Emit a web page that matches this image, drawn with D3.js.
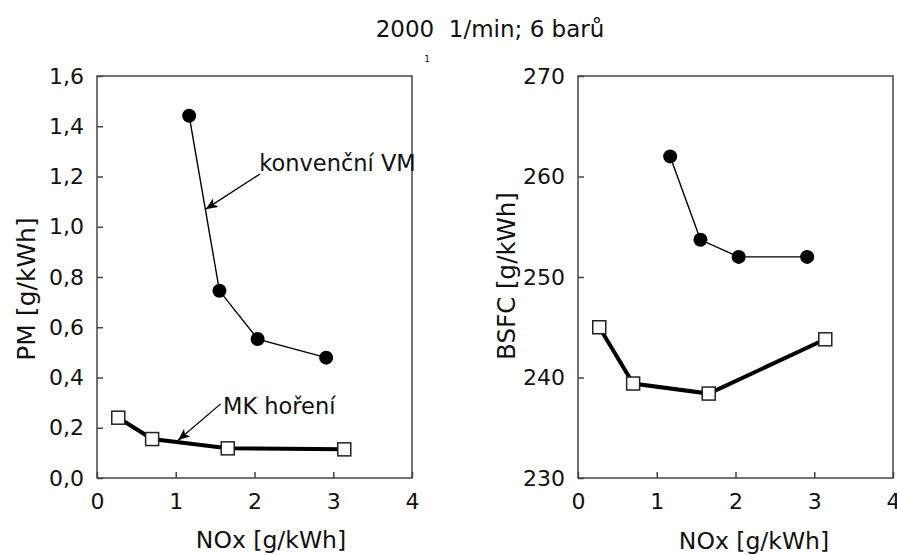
<!DOCTYPE html>
<html>
<head>
<meta charset="utf-8">
<script src="https://cdn.jsdelivr.net/npm/d3@7"></script>
<style>
  body { margin: 0; background: #fff; }
  text { font-family: "DejaVu Sans", Verdana, sans-serif; fill: #111; }
</style>
</head>
<body>
<svg width="897" height="555"></svg>
<script>
// data
var noxKonv = [1.17, 1.555, 2.04, 2.91];
var pmKonv = [1.442, 0.745, 0.553, 0.479];
var bsfcKonv = [262.0, 253.7, 252.0, 252.0];

var noxMK = [0.27, 0.70, 1.66, 3.14];
var pmMK = [0.240, 0.155, 0.118, 0.114];
var bsfcMK = [245.0, 239.4, 238.4, 243.8];

var xTicks = [0, 1, 2, 3, 4];
var pmTicks = [0, 0.2, 0.4, 0.6, 0.8, 1.0, 1.2, 1.4, 1.6];
var bsfcTicks = [230, 240, 250, 260, 270];

var svg = d3.select("svg");
var fmt = d3.format(".1f");

svg.append("text")
    .attr("x", 490).attr("y", 37)
    .attr("text-anchor", "middle")
    .style("font-size", "23px")
    .style("white-space", "pre")
    .attr("xml:space", "preserve")
    .text("2000  1/min; 6 barů");

svg.append("text")
    .attr("x", 427).attr("y", 62)
    .attr("text-anchor", "middle")
    .style("font-size", "9px")
    .text("1");

function panel(left, yDomain, yTicks, yFmt, fontSize) {
    var W = 315, H = 402, top = 76;
    var g = svg.append("g").attr("transform", "translate(" + left + "," + top + ")");
    var x = d3.scaleLinear().domain([0, 4]).range([0, W]);
    var y = d3.scaleLinear().domain(yDomain).range([H, 0]);

    g.append("rect")
        .attr("width", W).attr("height", H)
        .attr("fill", "none").attr("stroke", "#444").attr("stroke-width", 1.5);

    // ticks point inwards, labels outside
    var ax = g.append("g").attr("transform", "translate(0," + H + ")")
        .call(d3.axisBottom(x).tickValues(xTicks).tickFormat(d3.format("d")).tickSize(-6).tickPadding(10));
    var ay = g.append("g")
        .call(d3.axisLeft(y).tickValues(yTicks).tickFormat(yFmt).tickSize(-6).tickPadding(13));
    [ax, ay].forEach(function(a) {
        a.select(".domain").remove();
        a.selectAll("line").attr("stroke", "#444").attr("stroke-width", 1.5);
        a.selectAll("text").style("font-size", fontSize + "px")
            .style("font-family", '"DejaVu Sans", Verdana, sans-serif').attr("fill", "#111");
    });
    ax.selectAll("text").attr("dy", "0.95em");

    return { g: g, x: x, y: y };
}

function series(p, xs, ys, width, marker) {
    var pts = xs.map(function(v, i) { return [v, ys[i]]; });
    p.g.append("path")
        .datum(pts)
        .attr("fill", "none").attr("stroke", "#000").attr("stroke-width", width)
        .attr("d", d3.line().x(function(d) { return p.x(d[0]); }).y(function(d) { return p.y(d[1]); }));
    if (marker == "circle") {
        p.g.selectAll(null).data(pts).enter().append("circle")
            .attr("cx", function(d) { return p.x(d[0]); })
            .attr("cy", function(d) { return p.y(d[1]); })
            .attr("r", 7).attr("fill", "#000");
    } else {
        p.g.selectAll(null).data(pts).enter().append("rect")
            .attr("x", function(d) { return p.x(d[0]) - 6.5; })
            .attr("y", function(d) { return p.y(d[1]) - 6.5; })
            .attr("width", 13).attr("height", 13)
            .attr("fill", "#fff").attr("stroke", "#222").attr("stroke-width", 1.5);
    }
}

svg.append("defs").append("marker")
    .attr("id", "head").attr("viewBox", "0 0 12 10")
    .attr("refX", 12).attr("refY", 5)
    .attr("markerWidth", 12).attr("markerHeight", 10)
    .attr("markerUnits", "userSpaceOnUse")
    .attr("orient", "auto")
    .append("path").attr("d", "M0,0 L12,5 L0,10 L3,5 Z").attr("fill", "#000");

function note(p, txt, tx, ty, ax, ay, fx, fy) {
    p.g.append("line")
        .attr("x1", p.x(fx)).attr("y1", p.y(fy))
        .attr("x2", p.x(ax)).attr("y2", p.y(ay))
        .attr("stroke", "#000").attr("stroke-width", 1.3)
        .attr("marker-end", "url(#head)");
    p.g.append("text")
        .attr("x", p.x(tx)).attr("y", p.y(ty))
        .style("font-size", "22.5px")
        .text(txt);
}

// left: PM
var pL = panel(97, [0, 1.6], pmTicks, function(d) { return fmt(d).replace(".", ","); }, 22);
series(pL, noxKonv, pmKonv, 1.4, "circle");
series(pL, noxMK, pmMK, 4, "square");
note(pL, "konvenční VM", 2.06, 1.22, 1.38, 1.07, 2.07, 1.21);
note(pL, "MK hoření", 1.6, 0.255, 1.03, 0.15, 1.57, 0.295);

// right: BSFC
var pR = panel(578, [230, 270], bsfcTicks, d3.format("d"), 22);
series(pR, noxKonv, bsfcKonv, 1.4, "circle");
series(pR, noxMK, bsfcMK, 4, "square");

// axis titles
svg.append("text")
    .attr("transform", "translate(35,289) rotate(-90)")
    .attr("text-anchor", "middle").style("font-size", "25px")
    .text("PM [g/kWh]");
svg.append("text")
    .attr("transform", "translate(515,276) rotate(-90)")
    .attr("text-anchor", "middle").style("font-size", "24.5px")
    .text("BSFC [g/kWh]");
svg.append("text")
    .attr("x", 271).attr("y", 548)
    .attr("text-anchor", "middle").style("font-size", "23.5px")
    .text("NOx [g/kWh]");
svg.append("text")
    .attr("x", 754).attr("y", 549)
    .attr("text-anchor", "middle").style("font-size", "23.5px")
    .text("NOx [g/kWh]");
</script>
</body>
</html>
